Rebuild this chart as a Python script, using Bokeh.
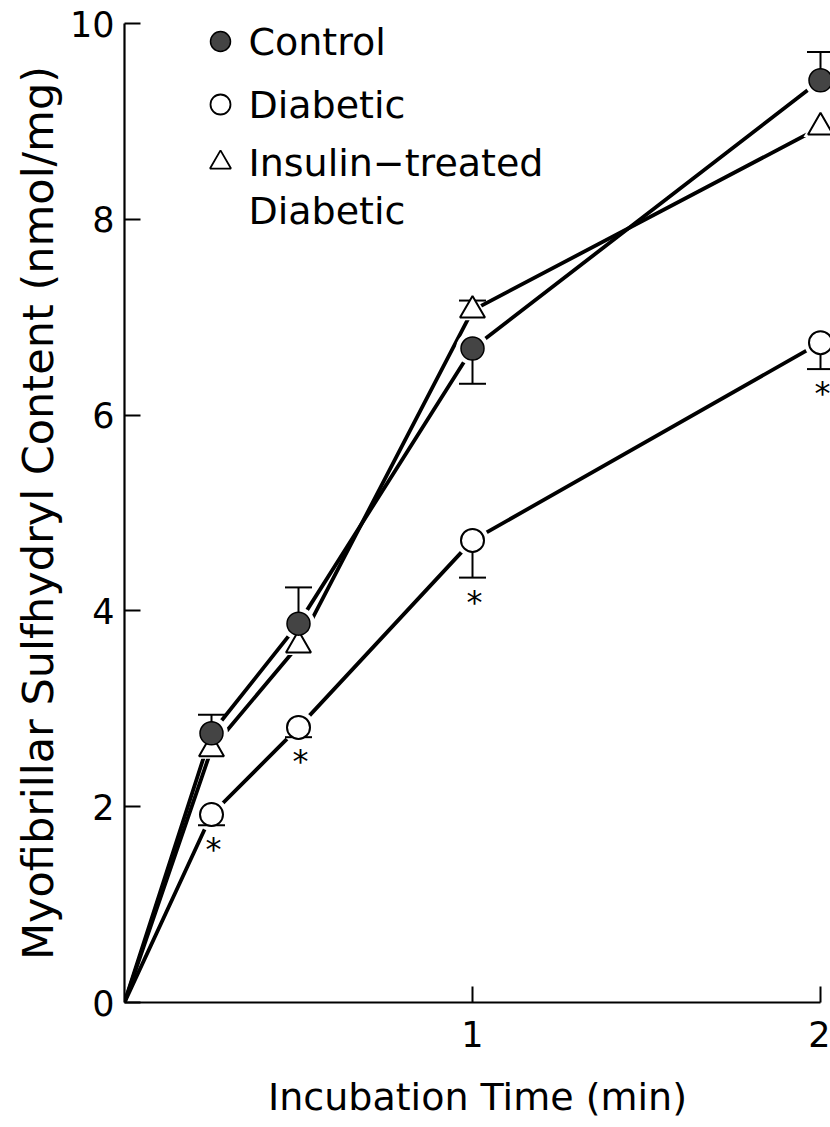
from bokeh.plotting import figure
from bokeh.models import Range1d, FixedTicker
from bokeh.core.properties import value
from bokeh.embed import file_html
from bokeh.resources import INLINE

# ---------------- data ----------------
time_min = [0, 0.25, 0.5, 1, 2]
control = [0, 2.75, 3.87, 6.68, 9.42]
diabetic = [0, 1.92, 2.81, 4.72, 6.74]
insulin = [0, 2.59, 3.65, 7.07, 8.94]

# one-sided error bars as drawn (size, direction: +1 up, -1 down, 0 none)
control_sem = [0, 0.19, 0.37, 0.36, 0.29]
control_dir = [0, 1, 1, -1, 1]
diabetic_sem = [0, 0.11, 0.10, 0.38, 0.27]
diabetic_dir = [0, -1, -1, -1, -1]
insulin_sem = [0, 0, 0, 0.10, 0]
insulin_dir = [0, 0, 0, 1, 0]
significant = [False, True, True, True, True]  # diabetic vs control, p<0.05

legend_labels = ["Control", "Diabetic", "Insulin\u2212treated", "Diabetic"]
x_ticks = [1, 2]
y_ticks = [0, 2, 4, 6, 8, 10]
x_title = "Incubation Time (min)"
y_title = "Myofibrillar Sulfhydryl Content (nmol/mg)"

FONT = "DejaVu Sans"

# ---------------- layout ----------------
W, H = 830, 1127
LEFT, TOP, BOTTOM = 124, 23, 125
PX_X = 348.0                      # px per minute
PX_Y = (H - TOP - BOTTOM) / 10.0  # px per unit
x_end = (W - LEFT) / PX_X


def sx(px):
    return (px - LEFT) / PX_X


def sy(py):
    return (H - BOTTOM - py) / PX_Y


p = figure(width=W, height=H, x_range=Range1d(0, x_end), y_range=Range1d(0, 10),
           output_backend="svg", toolbar_location=None,
           min_border_left=LEFT, min_border_right=0,
           min_border_top=TOP, min_border_bottom=BOTTOM)
p.outline_line_color = None
p.xgrid.visible = False
p.ygrid.visible = False
p.background_fill_color = "white"
p.border_fill_color = "white"

for ax in (p.xaxis[0], p.yaxis[0]):
    ax.axis_line_width = 2.2
    ax.axis_line_color = "black"
    ax.major_tick_line_width = 2
    ax.major_tick_line_color = "black"
    ax.major_tick_in = 16
    ax.major_tick_out = 0
    ax.minor_tick_line_color = None
    ax.major_label_text_font = FONT
    ax.major_label_text_font_size = "35px"
    ax.major_label_text_color = "black"
    ax.axis_label_text_font = FONT
    ax.axis_label_text_font_style = "normal"
    ax.axis_label_text_color = "black"

p.xaxis.ticker = FixedTicker(ticks=x_ticks)
p.xaxis.bounds = (0, 2)
p.xaxis.major_label_standoff = 18
p.xaxis.axis_label = x_title
p.xaxis.axis_label_text_font_size = "38px"
p.xaxis.axis_label_standoff = 25

p.yaxis.ticker = FixedTicker(ticks=y_ticks)
p.yaxis.bounds = (0, 10)
p.yaxis.major_label_standoff = 10
p.yaxis.axis_label = y_title
p.yaxis.axis_label_text_font_size = "43px"
p.yaxis.axis_label_standoff = 4

# ---------------- series lines ----------------
LW = 3.8
for ys in (control, diabetic, insulin):
    p.line(time_min, ys, line_width=LW, line_color="black")

# white halos to leave the small gaps around the markers
p.scatter(time_min[1:], diabetic[1:], marker="circle", size=33,
          fill_color="white", line_color=None)
p.scatter(time_min[1:], insulin[1:], marker="triangle", size=34,
          fill_color="white", line_color=None)
p.scatter(time_min[1:], control[1:], marker="circle", size=33,
          fill_color="white", line_color=None)

# ---------------- error bars ----------------
for vals, sem, dr in ((control, control_sem, control_dir),
                      (diabetic, diabetic_sem, diabetic_dir),
                      (insulin, insulin_sem, insulin_dir)):
    xs = [t for t, d in zip(time_min, dr) if d != 0]
    y0 = [v for v, d in zip(vals, dr) if d != 0]
    y1 = [v + d * s for v, s, d in zip(vals, sem, dr) if d != 0]
    p.segment(x0=xs, y0=y0, x1=xs, y1=y1, line_width=2, line_color="black")
    p.scatter(xs, y1, marker="dash", size=27, line_width=2, line_color="black")

# ---------------- markers ----------------
p.scatter(time_min[1:], insulin[1:], marker="triangle", size=25,
          fill_color="white", line_color="black", line_width=2)
p.scatter(time_min[1:], diabetic[1:], marker="circle", size=23,
          fill_color="white", line_color="black", line_width=2)
p.scatter(time_min[1:], control[1:], marker="circle", size=23,
          fill_color="#444444", line_color="black", line_width=1.5)

# significance asterisks below diabetic error bars
star_x = [t for t, s in zip(time_min, significant) if s]
star_y = [v + d * e for v, e, d, s in zip(diabetic, diabetic_sem, diabetic_dir, significant) if s]
p.text(star_x, star_y, text=["*"] * len(star_x), text_font=value(FONT),
       text_font_size="32px", text_align="center", text_baseline="middle",
       y_offset=24, x_offset=2, text_color="black")

# ---------------- legend ----------------
leg_mx = sx(220)
leg_tx = sx(248)
leg_rows_px = [41, 104, 162, 210]
p.scatter([leg_mx], [sy(leg_rows_px[0])], marker="circle", size=20,
          fill_color="#444444", line_color="black", line_width=1.5)
p.scatter([leg_mx], [sy(leg_rows_px[1])], marker="circle", size=20,
          fill_color="white", line_color="black", line_width=1.8)
p.scatter([leg_mx], [sy(leg_rows_px[2])], marker="triangle", size=21,
          fill_color="white", line_color="black", line_width=1.8)
p.text([leg_tx] * 4, [sy(r) for r in leg_rows_px], text=legend_labels,
       text_font=value(FONT), text_font_size="38px", text_align="left",
       text_baseline="middle", text_color="black")

open("out.html", "w").write(file_html(p, INLINE))
